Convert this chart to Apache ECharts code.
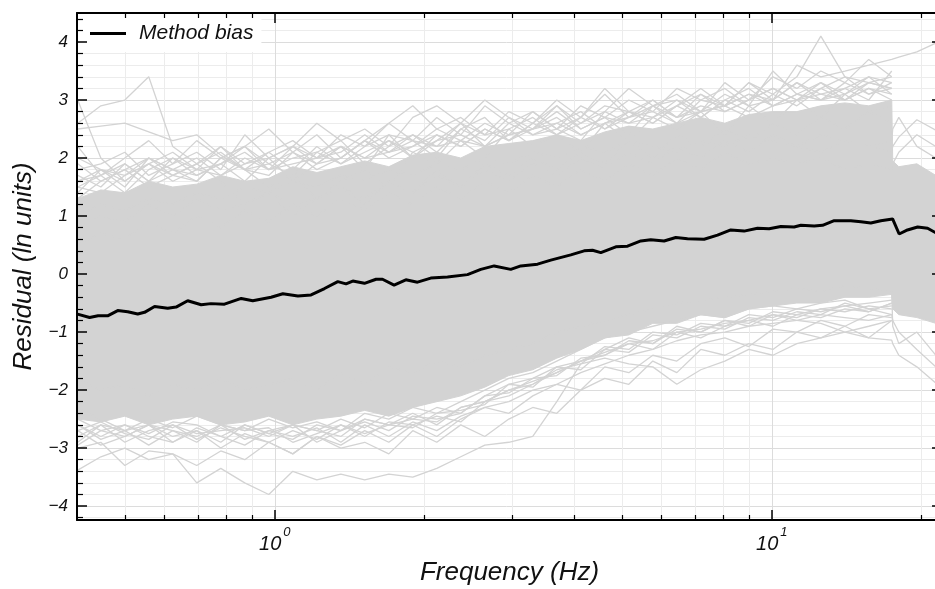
<!DOCTYPE html>
<html>
<head>
<meta charset="utf-8">
<title>Method bias</title>
<script src="https://cdn.jsdelivr.net/npm/echarts@6/dist/echarts.min.js"></script>
<style>
  html, body { margin: 0; padding: 0; background: #fff; }
  #chart { width: 935px; height: 589px; }
</style>
</head>
<body>
<div id="chart"></div>
<script>
// method bias (black line)
const BIAS_F = [0.401, 0.424, 0.441, 0.461, 0.483, 0.506, 0.530, 0.547, 0.573, 0.609, 0.633, 0.668, 0.711, 0.744, 0.792,
  0.856, 0.903, 0.983, 1.038, 1.113, 1.183, 1.259, 1.339, 1.391, 1.435, 1.515, 1.599, 1.647, 1.738, 1.835, 1.937,
  2.060, 2.226, 2.442, 2.597, 2.763, 2.984, 3.126, 3.378, 3.592, 3.941, 4.192, 4.358, 4.529, 4.855, 5.125, 5.451,
  5.708, 6.071, 6.410, 6.767, 7.308, 7.776, 8.270, 8.796, 9.359, 9.876, 10.43, 11.09, 11.44, 12.17, 12.65, 13.35,
  14.42, 15.11, 15.82, 16.57, 17.50, 18.04, 18.75, 19.65, 20.58, 21.38];
const BIAS_V = [-0.69, -0.75, -0.72, -0.72, -0.63, -0.65, -0.69, -0.66, -0.56, -0.59, -0.57, -0.46, -0.53, -0.51, -0.52,
  -0.42, -0.46, -0.40, -0.34, -0.38, -0.36, -0.25, -0.13, -0.17, -0.12, -0.16, -0.09, -0.09, -0.19, -0.10, -0.14,
  -0.07, -0.05, -0.01, 0.08, 0.14, 0.08, 0.14, 0.17, 0.24, 0.33, 0.40, 0.41, 0.37, 0.47, 0.48, 0.57,
  0.59, 0.57, 0.63, 0.61, 0.60, 0.67, 0.76, 0.74, 0.79, 0.78, 0.82, 0.81, 0.84, 0.83, 0.84, 0.92,
  0.92, 0.90, 0.88, 0.92, 0.95, 0.69, 0.76, 0.81, 0.79, 0.71];

// frequencies shared by the grey residual curves
const GRID_F = [0.4014, 0.4467, 0.4992, 0.5577, 0.6233, 0.6966, 0.7786, 0.8701, 0.9726, 1.087, 1.215, 1.358, 1.517,
  1.696, 1.895, 2.118, 2.367, 2.646, 2.957, 3.304, 3.693, 4.128, 4.613, 5.156, 5.762, 6.440, 7.196, 8.044, 8.989,
  10.05, 11.23, 12.55, 14.03, 15.67, 17.43, 17.51, 18.01, 19.58, 21.38];

// dense part of the residual cloud (upper / lower edge)
const CLOUD_HI = [1.3, 1.45, 1.4, 1.6, 1.5, 1.55, 1.7, 1.6, 1.65, 1.85, 1.75, 1.85, 1.95, 1.85, 2.05, 2.1, 2.0, 2.2,
  2.25, 2.3, 2.4, 2.3, 2.45, 2.55, 2.5, 2.6, 2.7, 2.6, 2.75, 2.8, 2.8, 2.9, 2.95, 2.9, 3.0, 1.95, 1.85, 1.9, 1.7];
const CLOUD_LO = [-2.5, -2.55, -2.45, -2.6, -2.5, -2.45, -2.6, -2.55, -2.45, -2.6, -2.5, -2.45, -2.35, -2.45, -2.3, -2.2,
  -2.1, -1.95, -1.75, -1.65, -1.45, -1.3, -1.1, -1.05, -0.85, -0.85, -0.7, -0.75, -0.6, -0.55, -0.5, -0.5, -0.4, -0.4,
  -0.35, -0.6, -0.7, -0.75, -0.85];

// single records around and outside the dense cloud
const REC_A = [2.6, 2.9, 3.0, 3.4, 2.2, 1.9, 1.6, 1.2, 1.4, 1.0, 1.3, 1.5, 1.2, 1.6, 1.4, 1.8, 1.5, 1.9, 1.7, 2.0, 1.8, 2.1, 1.9, 2.3, 2.0, 2.4, 2.2, 2.5, 2.3, 2.6, 2.4, 2.7, 2.5, 2.8, 2.6];
const REC_B = [2.5, 2.55, 2.6, 2.45, 2.3, 2.4, 2.05, 1.8, 1.5, 1.7, 1.3, 1.6, 1.8, 1.5, 2.1, 1.9, 2.3, 2.0, 2.5, 2.2, 2.4, 2.1, 2.6, 2.3, 2.7, 2.5, 2.8, 2.4, 2.9, 2.6, 3.0, 2.7, 3.1, 2.8, 2.9];
const REC_C = [3.0, 2.0, 1.6, 1.9, 2.1, 1.8, 2.2, 1.9, 2.0, 1.6, 1.9, 2.2, 1.8, 2.4, 2.0, 2.3, 2.6, 2.2, 2.4, 2.8, 2.5, 2.7, 3.1, 2.7, 2.9, 2.6, 3.0, 3.2, 2.9, 3.5, 3.1, 3.3, 3.0, 3.2, 3.1];
const REC_D = [1.8, 1.9, 2.1, 1.7, 1.9, 2.3, 2.0, 2.2, 2.5, 2.1, 2.4, 2.0, 2.3, 2.6, 2.9, 2.5, 2.7, 2.4, 2.8, 2.6, 3.0, 2.7, 3.2, 2.8, 3.0, 2.7, 3.1, 2.9, 3.3, 3.0, 3.6, 3.4, 3.5, 3.6, 3.7, 3.7, 3.74, 3.83, 3.98];
const REC_E = [1.6, 1.8, 1.5, 2.0, 1.7, 1.9, 2.2, 1.8, 2.1, 2.3, 2.0, 2.4, 2.2, 2.6, 2.3, 2.7, 2.4, 2.9, 2.6, 2.8, 2.5, 2.9, 2.7, 3.0, 2.8, 3.2, 3.0, 2.9, 3.3, 3.1, 3.4, 4.1, 3.4, 3.3, 3.4];
const REC_F = [2.2, 1.7, 2.0, 2.3, 1.9, 2.1, 1.8, 2.4, 2.0, 2.2, 2.6, 2.3, 2.5, 2.2, 2.7, 2.9, 2.6, 3.0, 2.7, 2.5, 2.9, 2.6, 2.8, 3.2, 2.9, 3.1, 2.8, 3.3, 3.0, 3.4, 3.2, 3.5, 3.3, 3.7, 3.4];
const REC_G = [1.5, 1.7, 1.9, 1.6, 2.0, 1.7, 1.9, 2.1, 1.8, 2.2, 2.0, 2.1, 2.4, 2.1, 2.3, 2.0, 2.5, 2.7, 2.3, 2.6, 2.9, 2.5, 2.7, 2.4, 2.9, 3.0, 2.7, 3.0, 3.2, 2.9, 3.1, 3.0, 3.3, 3.1, 3.2];
const REC_H = [1.9, 1.6, 1.8, 2.0, 1.8, 1.6, 2.0, 2.2, 1.9, 2.1, 1.8, 2.0, 2.3, 2.0, 2.2, 2.4, 2.2, 2.5, 2.3, 2.5, 2.7, 2.4, 2.6, 2.8, 2.6, 2.9, 3.1, 2.8, 3.0, 3.2, 3.0, 3.3, 3.1, 3.4, 3.3];
const REC_I = [0.8, 1.0, 0.9, 1.2, 1.0, 1.3, 1.1, 1.2, 1.4, 1.2, 1.3, 1.5, 1.3, 1.6, 1.4, 1.7, 1.5, 1.8, 1.6, 1.9, 1.7, 2.0, 1.8, 2.1, 1.9, 2.2, 2.0, 2.3, 2.1, 2.4, 2.2, 2.1, 2.3, 2.2, 2.1, 2.2, 2.36, 2.66, 2.48];
const REC_J = [0.5, 0.7, 0.6, 0.9, 0.7, 1.0, 0.8, 1.1, 0.9, 1.2, 1.0, 1.3, 1.1, 1.4, 1.2, 1.5, 1.3, 1.6, 1.4, 1.7, 1.5, 1.8, 1.6, 1.9, 1.7, 2.0, 1.8, 2.1, 1.9, 2.0, 1.9, 2.0, 1.8, 1.9, 1.8, 1.9, 2.1, 2.4, 2.2];
const REC_K = [1.7, 1.5, 1.9, 1.6, 1.8, 2.0, 1.7, 1.9, 2.1, 1.8, 2.2, 1.9, 2.1, 2.3, 2.0, 2.4, 2.2, 2.5, 2.3, 2.6, 2.4, 2.7, 2.5, 2.8, 2.6, 2.9, 2.7, 3.0, 2.8, 3.1, 2.9, 3.2, 3.0, 3.3, 3.2];
const REC_L = [1.4, 1.8, 1.6, 1.9, 1.7, 1.6, 2.0, 1.8, 1.7, 2.1, 1.9, 2.2, 2.0, 2.1, 2.4, 2.2, 2.3, 2.6, 2.4, 2.5, 2.8, 2.5, 2.7, 2.6, 2.9, 2.7, 2.8, 3.1, 2.9, 3.0, 3.3, 3.0, 3.2, 3.4, 3.1];
const REC_M = [1.6, 1.7, 1.4, 1.8, 2.0, 1.8, 1.9, 1.6, 2.0, 2.2, 1.9, 2.0, 2.3, 2.1, 2.2, 2.5, 2.3, 2.2, 2.6, 2.4, 2.5, 2.3, 2.8, 2.6, 2.7, 3.0, 2.8, 2.9, 3.1, 2.9, 3.0, 3.2, 3.4, 3.1, 3.3];
const REC_N = [1.3, 1.6, 1.8, 1.5, 1.7, 1.9, 2.1, 1.8, 1.9, 1.7, 2.1, 2.3, 1.9, 2.2, 2.4, 2.1, 2.5, 2.3, 2.7, 2.4, 2.6, 2.8, 2.5, 2.7, 3.0, 2.7, 2.9, 2.8, 3.0, 3.2, 3.0, 3.1, 3.0, 3.2, 3.0];
const REC_O = [2.0, 1.8, 1.7, 2.0, 1.8, 1.7, 1.9, 2.2, 1.8, 2.0, 2.1, 1.9, 2.2, 2.4, 2.3, 2.2, 2.6, 2.4, 2.5, 2.7, 2.4, 2.6, 2.9, 2.8, 2.7, 2.9, 3.2, 2.9, 3.1, 3.0, 3.3, 3.1, 3.2, 3.0, 3.5];
const REC_P = [1.5, 1.4, 1.7, 1.9, 1.6, 1.8, 1.7, 2.0, 1.8, 1.9, 2.0, 2.2, 2.0, 2.3, 2.1, 2.3, 2.4, 2.2, 2.4, 2.5, 2.6, 2.4, 2.6, 2.7, 2.8, 2.6, 2.8, 2.9, 2.7, 2.9, 3.1, 3.0, 3.1, 3.3, 3.2];
const REC_Q = [1.0, 1.2, 1.1, 1.3, 1.2, 1.4, 1.3, 1.5, 1.4, 1.6, 1.5, 1.7, 1.6, 1.8, 1.7, 1.9, 1.8, 2.0, 1.9, 2.1, 2.0, 2.2, 2.1, 2.3, 2.2, 2.1, 2.3, 2.2, 2.4, 2.3, 2.2, 2.4, 2.3, 2.2, 2.3, 2.5, 2.7, 2.2, 2.0];
const REC_R = [-3.38, -3.15, -3.0, -3.2, -3.1, -3.6, -3.35, -3.6, -3.8, -3.4, -3.55, -3.45, -3.55, -3.45, -3.5, -3.35, -3.15, -2.95, -2.9, -2.8, -2.2, -1.55, -1.45, -1.55, -1.6, -1.9, -1.65, -1.5, -1.3, -1.4, -1.2, -1.1, -1.0, -0.9, -0.8];
const REC_S = [-3.0, -2.9, -3.3, -3.05, -3.1, -3.3, -3.05, -3.2, -2.9, -3.1, -2.8, -3.0, -2.9, -3.1, -2.7, -2.9, -2.6, -2.8, -2.5, -2.3, -2.4, -2.0, -1.8, -1.9, -1.5, -1.7, -1.3, -1.4, -1.2, -1.3, -1.0, -1.1, -0.9, -1.1, -0.8];
const REC_T = [-2.7, -2.95, -2.8, -2.6, -2.9, -2.7, -3.0, -2.75, -2.9, -3.1, -2.8, -2.95, -2.7, -2.9, -2.6, -2.8, -2.5, -2.3, -2.4, -2.1, -1.9, -2.0, -1.6, -1.7, -1.4, -1.5, -1.2, -1.1, -1.25, -0.95, -1.0, -0.8, -0.9, -0.7, -0.75];
const REC_U = [-2.9, -2.6, -2.7, -2.95, -2.7, -2.8, -2.6, -2.85, -2.7, -2.6, -2.9, -2.7, -2.5, -2.6, -2.4, -2.6, -2.3, -2.2, -2.0, -1.9, -1.7, -1.5, -1.4, -1.2, -1.3, -1.0, -1.1, -0.9, -0.8, -0.9, -0.7, -0.75, -0.6, -0.65, -0.5];
const REC_V = [-2.6, -2.8, -2.6, -2.75, -2.55, -2.6, -2.8, -2.6, -2.75, -2.6, -2.7, -2.5, -2.65, -2.4, -2.5, -2.3, -2.4, -2.1, -1.9, -1.8, -1.6, -1.5, -1.3, -1.1, -1.2, -0.9, -1.0, -0.8, -0.9, -0.7, -0.8, -0.85, -1.0, -1.1, -1.14, -1.2, -1.4, -1.6, -1.88];
const REC_W = [-2.3, -2.5, -2.7, -2.5, -2.65, -2.45, -2.6, -2.7, -2.5, -2.65, -2.55, -2.7, -2.4, -2.5, -2.3, -2.4, -2.2, -2.0, -1.8, -1.7, -1.5, -1.3, -1.1, -1.0, -0.9, -0.8, -0.7, -0.75, -0.6, -0.55, -0.6, -0.5, -0.45, -0.6, -0.7, -0.8, -1.0, -1.3, -1.6];
const REC_X = [-2.8, -2.6, -2.9, -2.7, -2.6, -2.85, -2.65, -2.8, -2.9, -2.7, -2.85, -2.6, -2.75, -2.6, -2.5, -2.55, -2.3, -2.2, -2.0, -1.85, -1.7, -1.5, -1.35, -1.2, -1.15, -1.0, -0.95, -0.85, -0.8, -0.7, -0.75, -0.6, -0.65, -0.55, -0.6];
const REC_Y = [-2.6, -2.85, -2.7, -2.6, -2.8, -2.7, -2.9, -2.6, -2.75, -2.85, -2.6, -2.7, -2.55, -2.7, -2.45, -2.5, -2.4, -2.1, -2.05, -1.8, -1.75, -1.45, -1.4, -1.15, -1.2, -0.95, -1.0, -0.8, -0.85, -0.65, -0.7, -0.6, -0.55, -0.65, -0.5];
const REC_Z = [-2.7, -2.55, -2.75, -2.85, -2.6, -2.75, -2.7, -2.65, -2.8, -2.6, -2.7, -2.8, -2.5, -2.6, -2.65, -2.4, -2.35, -2.25, -1.9, -1.95, -1.6, -1.65, -1.3, -1.35, -1.05, -1.1, -0.9, -0.95, -0.75, -0.8, -0.65, -0.7, -0.5, -0.6, -0.55];
const REC_AA = [-2.95, -2.7, -2.6, -2.8, -2.9, -2.65, -2.8, -2.95, -2.7, -2.8, -2.65, -2.9, -2.6, -2.8, -2.55, -2.7, -2.45, -2.3, -2.2, -2.0, -1.9, -1.7, -1.55, -1.4, -1.3, -1.15, -1.05, -1.0, -0.9, -0.85, -0.8, -0.7, -0.75, -0.8, -0.7];
const REC_AB = [-2.5, -2.7, -2.8, -2.6, -2.7, -2.9, -2.6, -2.7, -2.65, -2.9, -2.75, -2.6, -2.8, -2.55, -2.6, -2.45, -2.55, -2.2, -2.1, -1.9, -1.65, -1.55, -1.25, -1.3, -1.0, -1.05, -0.85, -0.9, -0.7, -0.75, -0.6, -0.65, -0.55, -0.5, -0.45];
const REC_AC = [-1.8, -2.0, -1.9, -2.1, -1.9, -2.0, -1.8, -2.0, -1.9, -1.8, -2.0, -1.7, -1.9, -1.6, -1.7, -1.5, -1.6, -1.4, -1.3, -1.2, -1.0, -0.9, -0.8, -0.7, -0.6, -0.5, -0.45, -0.4, -0.35, -0.3, -0.25, -0.3, -0.2, -0.25, -0.3, -0.9, -1.2, -1.0, -1.4];
const RECORDS = [REC_A, REC_B, REC_C, REC_D, REC_E, REC_F, REC_G, REC_H, REC_I, REC_J, REC_K, REC_L, REC_M,
  REC_N, REC_O, REC_P, REC_Q, REC_R, REC_S, REC_T, REC_U, REC_V, REC_W, REC_X, REC_Y, REC_Z, REC_AA, REC_AB, REC_AC];

// ticks
const X_MAJOR = [1, 10];
const X_MINOR = [0.5, 0.6, 0.7, 0.8, 0.9, 2, 3, 4, 5, 6, 7, 8, 9, 20];
const Y_MAJOR = [-4, -3, -2, -1, 0, 1, 2, 3, 4];
const Y_MINOR = [];
for (let k = -21; k <= 22; k++) {
  if (k % 5 !== 0) Y_MINOR.push(k / 5);
}

const X_MIN = 0.4, X_MAX = 22;
const Y_MIN = -4.24, Y_MAX = 4.5;
const FONT = 'Liberation Sans, Arial, sans-serif';
const GREY = '#d3d3d3';
const INK = '#111';
const lg = Math.log10;

// helper: an overlay axis used only for ticks or grid lines
function xDeco (position, ticks, opt) {
  return Object.assign({
    type: 'value',
    position: position,
    min: lg(X_MIN),
    max: lg(X_MAX),
    axisLine: { show: false, onZero: false },
    axisTick: { show: false, customValues: ticks.map(lg) },
    axisLabel: { show: false },
    splitLine: { show: false }
  }, opt)
}
function yDeco (position, ticks, opt) {
  return Object.assign({
    type: 'value',
    position: position,
    min: Y_MIN,
    max: Y_MAX,
    axisLine: { show: false, onZero: false },
    axisTick: { show: false, customValues: ticks },
    axisLabel: { show: false },
    splitLine: { show: false }
  }, opt)
}
const tickStyle = w => ({ color: '#000', width: w });
const spine = { show: true, onZero: false, lineStyle: { color: '#000', width: 2 } };

const chart = echarts.init(document.getElementById('chart'));

const recordSeries = RECORDS.map(rec => ({
  type: 'line',
  xAxisIndex: 0,
  yAxisIndex: 0,
  data: rec.map((v, i) => [GRID_F[i], v]),
  symbol: 'none',
  silent: true,
  lineStyle: { color: GREY, width: 1.3 },
  z: 2
}));

const option = {
  animation: false,
  backgroundColor: '#fff',
  grid: { left: 77, right: -7, top: 13, bottom: 69, outerBoundsMode: 'none' },
  legend: {
    data: [{ name: 'Method bias', icon: 'rect' }],
    left: 80,
    top: 15,
    padding: [8, 8, 8, 10],
    backgroundColor: '#fff',
    itemWidth: 36,
    itemHeight: 3,
    selectedMode: false,
    textStyle: { fontFamily: FONT, fontStyle: 'italic', fontSize: 21, color: INK, padding: [0, 0, 0, 8] }
  },
  xAxis: [
    { type: 'log', logBase: 10, min: X_MIN, max: X_MAX, show: false },
    xDeco('bottom', X_MINOR, { z: 0, splitLine: { show: true, lineStyle: { color: '#ececec', width: 1 } } }),
    xDeco('bottom', X_MAJOR, { z: 0, splitLine: { show: true, lineStyle: { color: '#dcdcdc', width: 1 } } }),
    xDeco('bottom', X_MAJOR, {
      z: 5,
      axisLine: spine,
      axisTick: { show: true, inside: true, length: 10, customValues: X_MAJOR.map(lg), lineStyle: tickStyle(1.5) },
      axisLabel: {
        show: true,
        customValues: [0, 1],
        margin: 6,
        formatter: v => '{b|10}{s|' + Math.round(v) + '}',
        rich: {
          b: { fontFamily: FONT, fontStyle: 'italic', fontSize: 20, color: INK, lineHeight: 28, verticalAlign: 'bottom' },
          s: { fontFamily: FONT, fontStyle: 'italic', fontSize: 13, color: INK, lineHeight: 14, verticalAlign: 'top', padding: [0, 0, 0, 2] }
        }
      },
      name: 'Frequency (Hz)',
      nameLocation: 'middle',
      nameGap: 40,
      nameTextStyle: { fontFamily: FONT, fontStyle: 'italic', fontSize: 26, color: INK }
    }),
    xDeco('bottom', X_MINOR, { z: 5, axisTick: { show: true, inside: true, length: 5, customValues: X_MINOR.map(lg), lineStyle: tickStyle(1.2) } }),
    xDeco('top', X_MAJOR, { z: 5, axisLine: spine, axisTick: { show: true, inside: true, length: 10, customValues: X_MAJOR.map(lg), lineStyle: tickStyle(1.5) } }),
    xDeco('top', X_MINOR, { z: 5, axisTick: { show: true, inside: true, length: 5, customValues: X_MINOR.map(lg), lineStyle: tickStyle(1.2) } })
  ],
  yAxis: [
    yDeco('left', Y_MAJOR, {
      z: 5,
      axisLine: spine,
      axisTick: { show: true, inside: true, length: 10, customValues: Y_MAJOR, lineStyle: tickStyle(1.5) },
      axisLabel: {
        show: true,
        customValues: Y_MAJOR,
        margin: 9,
        formatter: v => (v < 0 ? '\u2212' + (-v) : String(v)),
        fontFamily: FONT,
        fontStyle: 'italic',
        fontSize: 17,
        color: INK
      },
      name: 'Residual (ln units)',
      nameLocation: 'middle',
      nameGap: 40,
      nameTextStyle: { fontFamily: FONT, fontStyle: 'italic', fontSize: 26, color: INK }
    }),
    yDeco('left', Y_MINOR, { z: 0, splitLine: { show: true, lineStyle: { color: '#ececec', width: 1 } } }),
    yDeco('left', Y_MAJOR, { z: 0, splitLine: { show: true, lineStyle: { color: '#dcdcdc', width: 1 } } }),
    yDeco('left', Y_MINOR, { z: 5, axisTick: { show: true, inside: true, length: 6, customValues: Y_MINOR, lineStyle: tickStyle(1.2) } }),
    yDeco('right', Y_MAJOR, { z: 5, axisLine: spine, axisTick: { show: true, inside: true, length: 10, customValues: Y_MAJOR, lineStyle: tickStyle(1.5) } }),
    yDeco('right', Y_MINOR, { z: 5, axisTick: { show: true, inside: true, length: 6, customValues: Y_MINOR, lineStyle: tickStyle(1.2) } })
  ],
  series: [
    {
      // dense body of the residual curves
      type: 'custom',
      xAxisIndex: 0,
      yAxisIndex: 0,
      silent: true,
      z: 2,
      data: [[GRID_F[0], CLOUD_LO[0]]],
      renderItem: function (params, api) {
        const pts = [];
        for (let i = 0; i < GRID_F.length; i++) pts.push(api.coord([GRID_F[i], CLOUD_HI[i]]));
        for (let i = GRID_F.length - 1; i >= 0; i--) pts.push(api.coord([GRID_F[i], CLOUD_LO[i]]));
        return { type: 'polygon', shape: { points: pts }, style: { fill: GREY, stroke: GREY, lineWidth: 1 } };
      }
    },
    ...recordSeries,
    {
      name: 'Method bias',
      type: 'line',
      xAxisIndex: 0,
      yAxisIndex: 0,
      data: BIAS_F.map((f, i) => [f, BIAS_V[i]]),
      symbol: 'none',
      itemStyle: { color: '#000' },
      lineStyle: { color: '#000', width: 3 },
      z: 3
    }
  ]
};

chart.setOption(option);
</script>
</body>
</html>
